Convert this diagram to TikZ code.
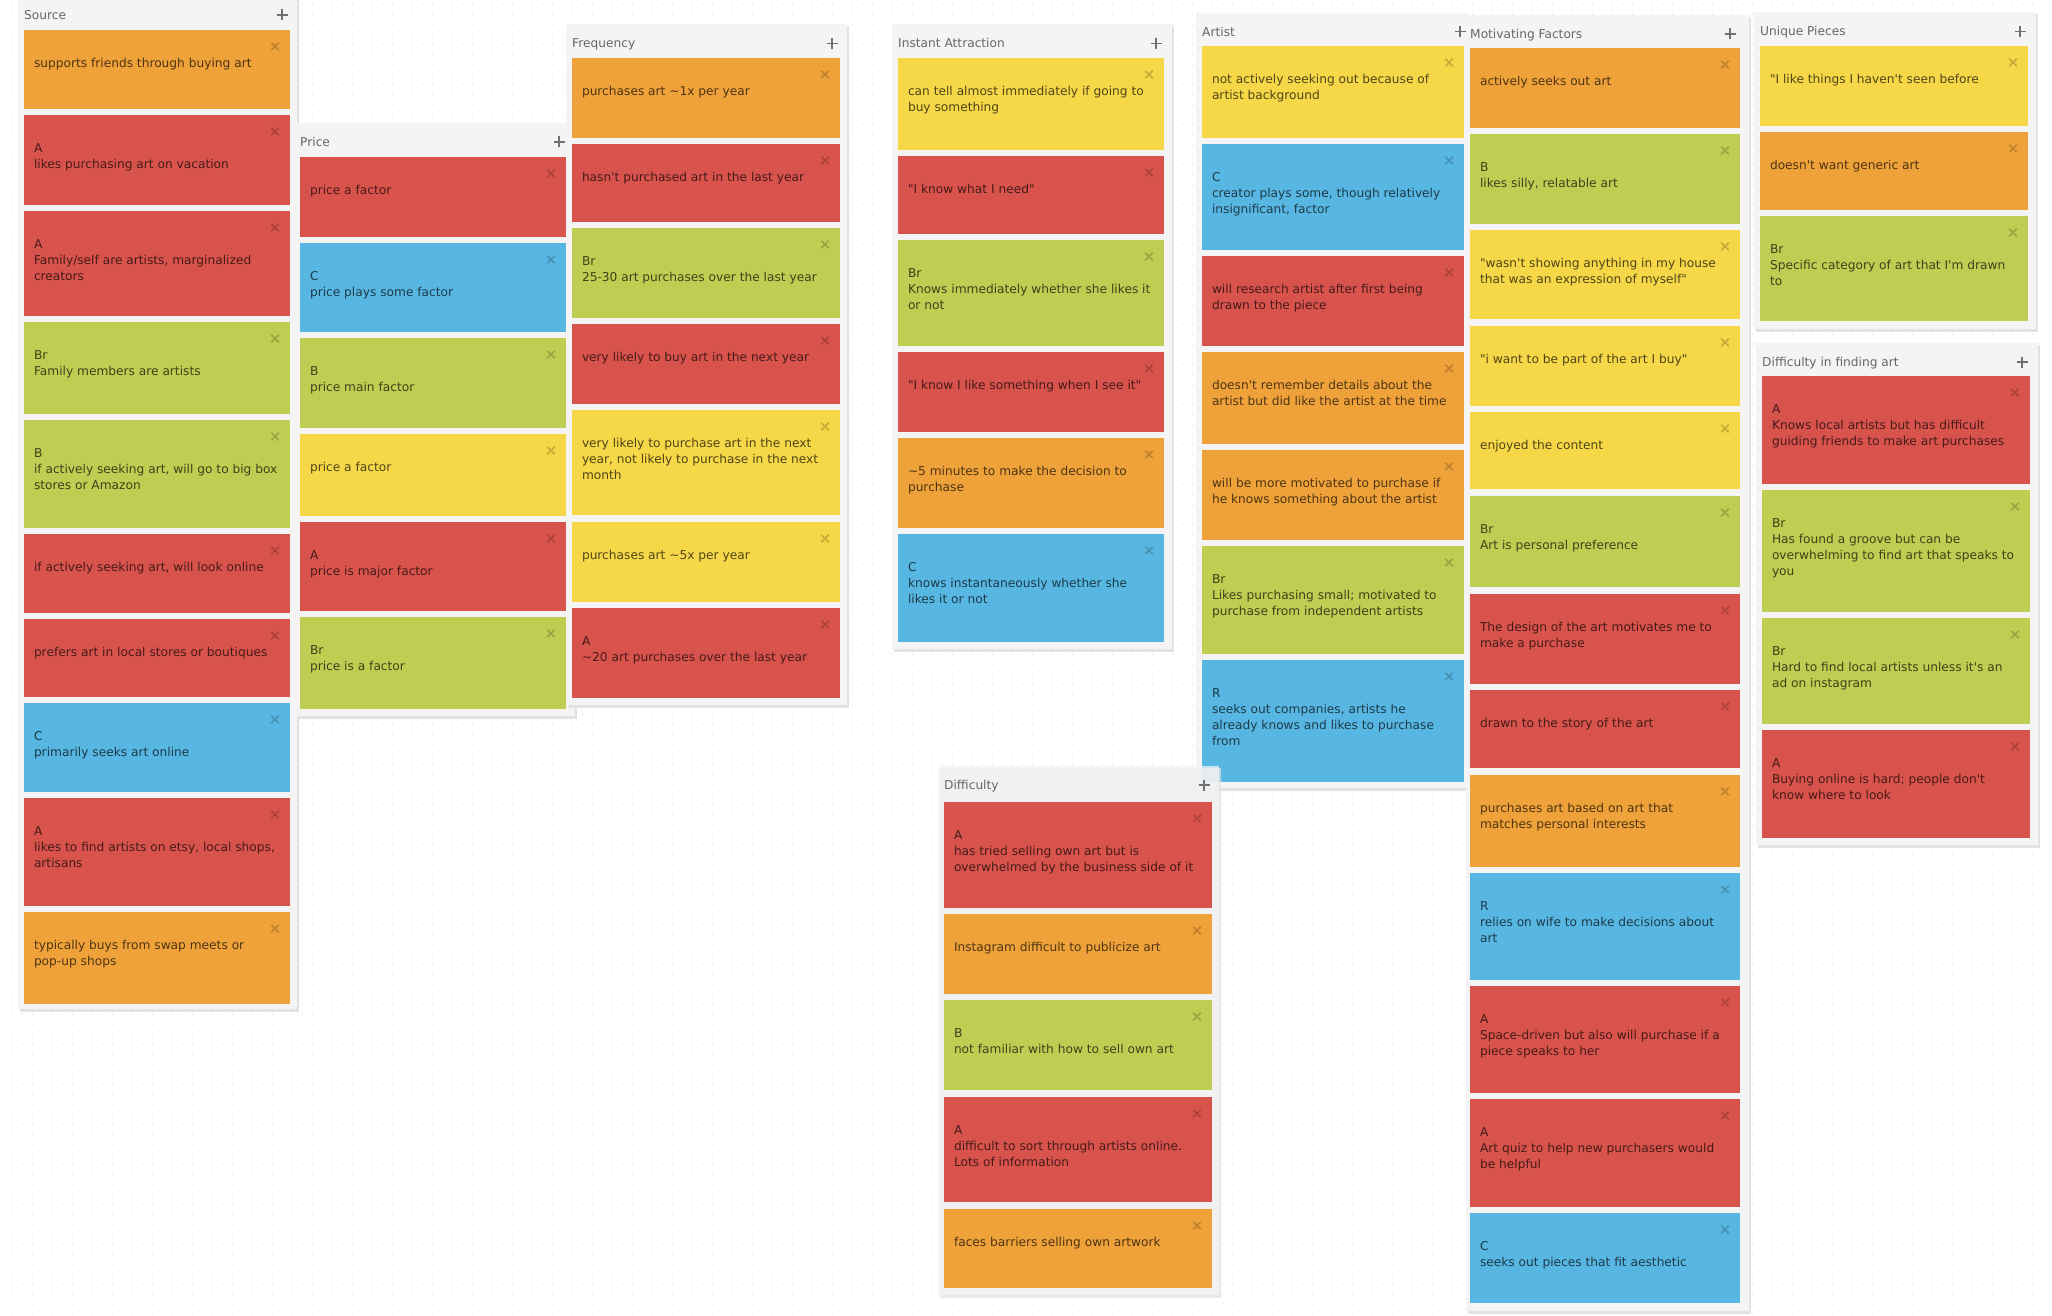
\documentclass[tikz,border=0pt]{standalone}
\usepackage{fontspec}
\setmainfont{DejaVu Sans}
\usetikzlibrary{patterns.meta}
\definecolor{nOrange}{HTML}{F0A23A}
\definecolor{nRed}{HTML}{D9534D}
\definecolor{nGreen}{HTML}{BFCE52}
\definecolor{nYellow}{HTML}{F6D748}
\definecolor{nBlue}{HTML}{58B7E2}
\definecolor{panelbg}{HTML}{F4F4F4}
\definecolor{panelsh}{HTML}{E2E2E2}
\definecolor{titlegray}{HTML}{666666}
\definecolor{plusgray}{HTML}{707070}
\definecolor{dotgray}{HTML}{D4D4D4}
\newcommand{\notefont}{\fontsize{12.2}{16}\selectfont}
\newcommand{\ap}{\textquotesingle}
\newcommand{\dq}{\textquotedbl}
\newcommand{\tld}{\textasciitilde}
\tikzdeclarepattern{
  name=canvasdots,
  type=uncolored,
  bounding box={(0pt,0pt) and (10pt,10pt)},
  tile size={(10pt,10pt)},
  code={\fill (4pt,2pt) circle (0.7pt);}
}
\tikzset{
  panelbox/.style={rectangle, fill=panelbg, anchor=north west, inner sep=0pt, outer sep=0pt},
  paneltitle/.style={anchor=base west, inner sep=0pt, font=\notefont, text=titlegray},
  plusbox/.style={rectangle, minimum size=11pt, inner sep=0pt, outer sep=0pt},
  plusstroke/.style={draw=plusgray, line width=1.4pt},
  stickybox/.style={rectangle, anchor=north west, inner sep=0pt, outer sep=0pt},
  stickytext/.style={anchor=base west, inner sep=0pt, outer sep=0pt, font=\notefont, text=black, text opacity=0.68},
  closebox/.style={rectangle, minimum size=7.5pt, inner sep=0pt, outer sep=0pt},
  closestroke/.style={draw=black, draw opacity=0.2, line width=1.7pt}
}
% name, x1, y1, x2, y2, title, title x, plus x, extra style
\newcommand{\boardcol}[9]{%
  \fill[panelsh,#9] (#2+1.5,#3+2) rectangle (#4+1.5,#5+3);
  \node[panelbox,#9,minimum width={(#4-#2)*1pt},minimum height={(#5-#3)*1pt}] (#1) at (#2,#3) {};
  \node[paneltitle] (#1-title) at (#7,#3+23.5) {#6};
  \node[plusbox] (#1-plus) at (#8,#3+19) {};
  \draw[plusstroke] (#1-plus.north) -- (#1-plus.south) (#1-plus.west) -- (#1-plus.east);
}
% name, x1, y1, x2, y2, colour, text
\newcommand{\stickynote}[7]{%
  \node[stickybox,fill=#6,minimum width={(#4-#2)*1pt},minimum height={(#5-#3)*1pt}] (#1) at (#2,#3) {};
  \node[stickytext] (#1-t) at ([xshift=10pt,yshift=-37.5pt]#1.north west) {\parbox[t]{300pt}{\raggedright #7}};
  \node[closebox] (#1-x) at ([xshift=-15pt,yshift=-16.5pt]#1.north east) {};
  \draw[closestroke] (#1-x.north west) -- (#1-x.south east) (#1-x.north east) -- (#1-x.south west);
}
\begin{document}
\begin{tikzpicture}[x=1pt,y=-1pt]
\useasboundingbox (0,0) rectangle (2052,1316);
\fill[white] (0,0) rectangle (2052,1316);
\fill[pattern=canvasdots, pattern color=dotgray] (0,0) rectangle (2052,1316);

% ---------- Source ----------
\boardcol{src}{18}{-4}{297}{1009}{Source}{24}{282}{}
\stickynote{s1}{24}{30}{290}{109}{nOrange}{supports friends through buying art}
\stickynote{s2}{24}{115}{290}{205}{nRed}{A\\likes purchasing art on vacation}
\stickynote{s3}{24}{211}{290}{316}{nRed}{A\\Family/self are artists, marginalized\\creators}
\stickynote{s4}{24}{322}{290}{414}{nGreen}{Br\\Family members are artists}
\stickynote{s5}{24}{420}{290}{528}{nGreen}{B\\if actively seeking art, will go to big box\\stores or Amazon}
\stickynote{s6}{24}{534}{290}{613}{nRed}{if actively seeking art, will look online}
\stickynote{s7}{24}{619}{290}{697}{nRed}{prefers art in local stores or boutiques}
\stickynote{s8}{24}{703}{290}{792}{nBlue}{C\\primarily seeks art online}
\stickynote{s9}{24}{798}{290}{906}{nRed}{A\\likes to find artists on etsy, local shops,\\artisans}
\stickynote{s10}{24}{912}{290}{1004}{nOrange}{typically buys from swap meets or\\pop-up shops}

% ---------- Price ----------
\boardcol{prc}{297}{123}{575}{716}{Price}{300}{559}{}
\stickynote{p1}{300}{157}{566}{237}{nRed}{price a factor}
\stickynote{p2}{300}{243}{566}{332}{nBlue}{C\\price plays some factor}
\stickynote{p3}{300}{338}{566}{428}{nGreen}{B\\price main factor}
\stickynote{p4}{300}{434}{566}{516}{nYellow}{price a factor}
\stickynote{p5}{300}{522}{566}{611}{nRed}{A\\price is major factor}
\stickynote{p6}{300}{617}{566}{709}{nGreen}{Br\\price is a factor}

% ---------- Frequency ----------
\boardcol{frq}{566}{24.5}{847}{705}{Frequency}{572}{832}{}
\stickynote{f1}{572}{58}{840}{138}{nOrange}{purchases art \tld1x per year}
\stickynote{f2}{572}{144}{840}{222}{nRed}{hasn\ap t purchased art in the last year}
\stickynote{f3}{572}{228}{840}{318}{nGreen}{Br\\25-30 art purchases over the last year}
\stickynote{f4}{572}{324}{840}{404}{nRed}{very likely to buy art in the next year}
\stickynote{f5}{572}{410}{840}{515}{nYellow}{very likely to purchase art in the next\\year, not likely to purchase in the next\\month}
\stickynote{f6}{572}{522}{840}{602}{nYellow}{purchases art \tld5x per year}
\stickynote{f7}{572}{608}{840}{698}{nRed}{A\\\tld20 art purchases over the last year}

% ---------- Instant Attraction ----------
\boardcol{ins}{892}{24.5}{1172}{649}{Instant Attraction}{898}{1156}{}
\stickynote{i1}{898}{58}{1164}{150}{nYellow}{can tell almost immediately if going to\\buy something}
\stickynote{i2}{898}{156}{1164}{234}{nRed}{\dq I know what I need\dq}
\stickynote{i3}{898}{240}{1164}{346}{nGreen}{Br\\Knows immediately whether she likes it\\or not}
\stickynote{i4}{898}{352}{1164}{432}{nRed}{\dq I know I like something when I see it\dq}
\stickynote{i5}{898}{438}{1164}{528}{nOrange}{\tld5 minutes to make the decision to\\purchase}
\stickynote{i6}{898}{534}{1164}{642}{nBlue}{C\\knows instantaneously whether she\\likes it or not}

% ---------- Artist ----------
\boardcol{art}{1196}{12.8}{1468}{788}{Artist}{1202}{1460}{}
\stickynote{a1}{1202}{46}{1464}{138}{nYellow}{not actively seeking out because of\\artist background}
\stickynote{a2}{1202}{144}{1464}{250}{nBlue}{C\\creator plays some, though relatively\\insignificant, factor}
\stickynote{a3}{1202}{256}{1464}{346}{nRed}{will research artist after first being\\drawn to the piece}
\stickynote{a4}{1202}{352}{1464}{444}{nOrange}{doesn\ap t remember details about the\\artist but did like the artist at the time}
\stickynote{a5}{1202}{450}{1464}{540}{nOrange}{will be more motivated to purchase if\\he knows something about the artist}
\stickynote{a6}{1202}{546}{1464}{654}{nGreen}{Br\\Likes purchasing small; motivated to\\purchase from independent artists}
\stickynote{a7}{1202}{660}{1464}{782}{nBlue}{R\\seeks out companies, artists he\\already knows and likes to purchase\\from}

% ---------- Motivating Factors ----------
\boardcol{mot}{1466}{15}{1749}{1311}{Motivating Factors}{1470}{1730}{}
\stickynote{m1}{1470}{48}{1740}{128}{nOrange}{actively seeks out art}
\stickynote{m2}{1470}{134}{1740}{224}{nGreen}{B\\likes silly, relatable art}
\stickynote{m3}{1470}{230}{1740}{319}{nYellow}{\dq wasn\ap t showing anything in my house\\that was an expression of myself\dq}
\stickynote{m4}{1470}{326}{1740}{406}{nYellow}{\dq i want to be part of the art I buy\dq}
\stickynote{m5}{1470}{412}{1740}{489}{nYellow}{enjoyed the content}
\stickynote{m6}{1470}{496}{1740}{587}{nGreen}{Br\\Art is personal preference}
\stickynote{m7}{1470}{594}{1740}{684}{nRed}{The design of the art motivates me to\\make a purchase}
\stickynote{m8}{1470}{690}{1740}{768}{nRed}{drawn to the story of the art}
\stickynote{m9}{1470}{775}{1740}{867}{nOrange}{purchases art based on art that\\matches personal interests}
\stickynote{m10}{1470}{873}{1740}{980}{nBlue}{R\\relies on wife to make decisions about\\art}
\stickynote{m11}{1470}{986}{1740}{1093}{nRed}{A\\Space-driven but also will purchase if a\\piece speaks to her}
\stickynote{m12}{1470}{1099}{1740}{1207}{nRed}{A\\Art quiz to help new purchasers would\\be helpful}
\stickynote{m13}{1470}{1213}{1740}{1303}{nBlue}{C\\seeks out pieces that fit aesthetic}

% ---------- Unique Pieces ----------
\boardcol{uni}{1754}{12.5}{2036}{329}{Unique Pieces}{1760}{2020}{}
\stickynote{u1}{1760}{46}{2028}{126}{nYellow}{\dq I like things I haven\ap t seen before}
\stickynote{u2}{1760}{132}{2028}{210}{nOrange}{doesn\ap t want generic art}
\stickynote{u3}{1760}{216}{2028}{321}{nGreen}{Br\\Specific category of art that I\ap m drawn\\to}

% ---------- Difficulty in finding art ----------
\boardcol{dfa}{1756}{343}{2038}{845}{Difficulty in finding art}{1762}{2022}{}
\stickynote{d1}{1762}{376}{2030}{484}{nRed}{A\\Knows local artists but has difficult\\guiding friends to make art purchases}
\stickynote{d2}{1762}{490}{2030}{612}{nGreen}{Br\\Has found a groove but can be\\overwhelming to find art that speaks to\\you}
\stickynote{d3}{1762}{618}{2030}{724}{nGreen}{Br\\Hard to find local artists unless it\ap s an\\ad on instagram}
\stickynote{d4}{1762}{730}{2030}{838}{nRed}{A\\Buying online is hard; people don\ap t\\know where to look}

% ---------- Difficulty ----------
\boardcol{dif}{938}{766}{1219}{1295}{Difficulty}{944}{1204}{fill opacity=0.75}
\stickynote{y1}{944}{802}{1212}{908}{nRed}{A\\has tried selling own art but is\\overwhelmed by the business side of it}
\stickynote{y2}{944}{914}{1212}{994}{nOrange}{Instagram difficult to publicize art}
\stickynote{y3}{944}{1000}{1212}{1090}{nGreen}{B\\not familiar with how to sell own art}
\stickynote{y4}{944}{1097}{1212}{1202}{nRed}{A\\difficult to sort through artists online.\\Lots of information}
\stickynote{y5}{944}{1209}{1212}{1288}{nOrange}{faces barriers selling own artwork}
\end{tikzpicture}
\end{document}
